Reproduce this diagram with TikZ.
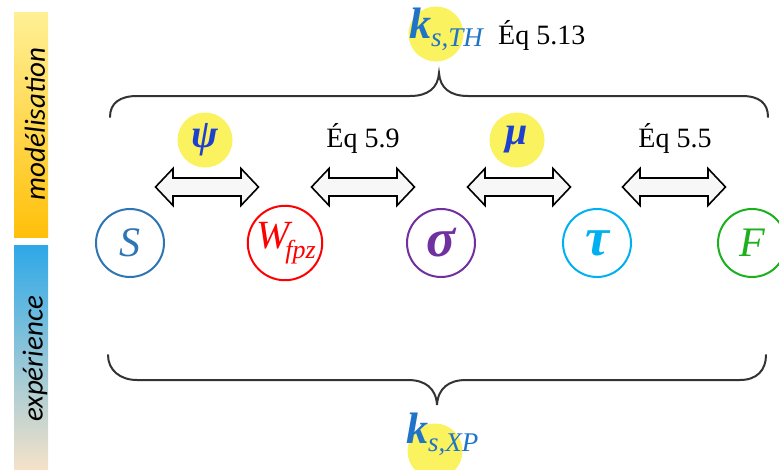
\documentclass[tikz,border=0pt]{standalone}
\usepackage{fontspec}
\newfontfamily\sidefont{Carlito}
\newfontfamily\vfont{Liberation Serif}
\definecolor{cS}{HTML}{2E75B6}
\definecolor{cW}{HTML}{FF0000}
\definecolor{cSig}{HTML}{7030A0}
\definecolor{cTau}{HTML}{00B0F0}
\definecolor{cF}{HTML}{1DB01D}
\definecolor{cYel}{HTML}{FAF25E}
\definecolor{cPsi}{HTML}{1E40D0}
\definecolor{cK}{HTML}{1F74C8}
\definecolor{cBrace}{HTML}{333333}
\definecolor{cArrFill}{HTML}{F7F7F7}
\tikzset{
  varcirc/.style={circle, line width=2pt, minimum size=68pt, inner sep=0pt, fill=white},
  yelcirc/.style={circle, fill=cYel, minimum size=55pt, inner sep=0pt},
  eqtext/.style={font=\vfont\fontsize{28}{28}\selectfont, inner sep=0pt},
  sidetext/.style={font=\sidefont\itshape\fontsize{29}{29}\selectfont, rotate=90, inner sep=0pt},
  bracestyle/.style={draw=cBrace, line width=2pt, line cap=round},
  arrowstyle/.style={draw=black, fill=cArrFill, line width=1.6pt, line join=miter},
  dblarrow/.pic={\path[arrowstyle] (-51.5,0) -- (-34,-18.5) -- (-34,-9) -- (34,-9) -- (34,-18.5) -- (51.5,0) -- (34,18.5) -- (34,9) -- (-34,9) -- (-34,18.5) -- cycle;}
}
\begin{document}
\begin{tikzpicture}[x=1pt,y=-1pt]
\clip (0,0) rectangle (779,469);
% side bars
\shade[top color={rgb,255:red,255;green,240;blue,150}, bottom color={rgb,255:red,255;green,192;blue,10}] (14,12) rectangle (48,237);
\shade[top color={rgb,255:red,45;green,168;blue,232}, bottom color={rgb,255:red,245;green,226;blue,200}] (14,245) rectangle (48,469);
\node[sidetext] (mod) at (35,124) {modélisation};
\node[sidetext] (exp) at (35,359) {expérience};
% top brace and label
\node[yelcirc] (kthc) at (436,34) {};
\node[inner sep=0pt, text=cK, anchor=base west] (kth) at (409,38) {\vfont\itshape{\bfseries\fontsize{44}{44}\selectfont k}\raisebox{-8pt}{\fontsize{27}{27}\selectfont s,TH}};
\node[eqtext, anchor=west] (eq513) at (498,35) {Éq 5.13};
\path[bracestyle] (110,117) .. controls (110,103) and (120,96) .. (137,96) -- (410,96) .. controls (428,96) and (438,88) .. (439,73) .. controls (440,88) and (450,96) .. (468,96) -- (742,96) .. controls (759,96) and (768,103) .. (768,117);
% circles
\node[varcirc, draw=cS, text=cS, font=\vfont\itshape\fontsize{42}{42}\selectfont] (S) at (130,243) {S};
\node[varcirc, draw=cW, text=cW, font=\vfont\itshape\fontsize{40}{40}\selectfont] (W) at (285,243) {\hspace*{2pt}W\hspace*{-4pt}\raisebox{-10pt}{\fontsize{26}{26}\selectfont fpz}};
\node[varcirc, draw=cSig, text=cSig, font=\vfont\itshape\bfseries\fontsize{54}{54}\selectfont] (sig) at (441,243) {σ};
\node[varcirc, draw=cTau, text=cTau, font=\vfont\itshape\bfseries\fontsize{54}{54}\selectfont] (tau) at (597,243) {τ};
\node[varcirc, draw=cF, text=cF, font=\vfont\itshape\fontsize{42}{42}\selectfont] (F) at (752,243) {F};
% double arrows
\pic (a1) at (207,187) {dblarrow};
\pic (a2) at (363,187) {dblarrow};
\pic (a3) at (519,187) {dblarrow};
\pic (a4) at (674,187) {dblarrow};
% labels over arrows
\node[yelcirc] (psic) at (205,140) {};
\node[text=cPsi, inner sep=0pt, font=\vfont\itshape\bfseries\fontsize{40}{40}\selectfont] (psi) at (205,140) {ψ};
\node[eqtext] (eq59) at (363,138) {Éq 5.9};
\node[yelcirc] (muc) at (517,140) {};
\node[text=cPsi, inner sep=0pt, font=\vfont\itshape\bfseries\fontsize{40}{40}\selectfont] (mu) at (517,140) {μ};
\node[eqtext] (eq55) at (675,138) {Éq 5.5};
% bottom brace and label
\path[bracestyle] (108,355) .. controls (108,370) and (120,380) .. (137,380) -- (408,380) .. controls (425,380) and (436,388) .. (437,405) .. controls (438,388) and (449,380) .. (466,380) -- (740,380) .. controls (757,380) and (766,370) .. (766,355);
\node[yelcirc] (kxpc) at (435,451) {};
\node[inner sep=0pt, text=cK, anchor=base west] (kxp) at (406,443) {\vfont\itshape{\bfseries\fontsize{44}{44}\selectfont k}\raisebox{-8pt}{\fontsize{27}{27}\selectfont s,XP}};
\end{tikzpicture}
\end{document}
